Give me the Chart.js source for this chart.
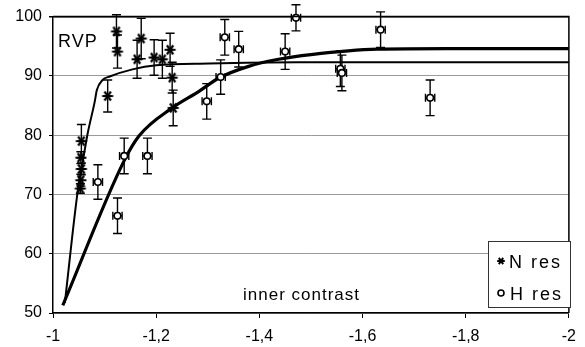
<!DOCTYPE html>
<html>
<head>
<meta charset="utf-8">
<title>RVP vs inner contrast</title>
<script src="https://cdn.jsdelivr.net/npm/chart.js@4"></script>
<style>
  body { margin: 0; background: #fff; }
  canvas { display: block; }
</style>
</head>
<body>
<canvas id="rvp" width="585" height="347"></canvas>
<script>
// axis ticks (x runs from -1 to -2, shown with a decimal comma)
const xTicks = [-1, -1.2, -1.4, -1.6, -1.8, -2];
const yTicks = [50, 60, 70, 80, 90, 100];

// N res measurements with their error (+/-)
const nX   = [-1.055, -1.054, -1.055, -1.054, -1.053, -1.106, -1.123, -1.125, -1.163, -1.171, -1.196, -1.212, -1.227, -1.231, -1.233];
const nY   = [79.0, 76.2, 74.3, 72.4, 71.0, 86.6, 97.5, 94.1, 92.8, 96.3, 93.1, 92.8, 94.4, 89.7, 84.6];
const nErr = [2.8, 1.0, 1.0, 1.0, 0.8, 2.7, 2.8, 2.8, 3.2, 3.4, 3.0, 3.2, 2.8, 2.6, 3.0];

// H res measurements with their error (+/-)
const hX   = [-1.087, -1.125, -1.138, -1.183, -1.298, -1.325, -1.333, -1.360, -1.450, -1.471, -1.557, -1.560, -1.635, -1.731];
const hY   = [72.1, 66.4, 76.5, 76.5, 85.7, 89.8, 96.5, 94.5, 94.1, 99.8, 91.2, 90.5, 97.8, 86.3];
const hErr = [2.9, 3.0, 3.0, 3.0, 3.0, 2.9, 3.0, 3.0, 3.0, 2.2, 3.0, 3.0, 3.0, 3.0];

// fitted curves
const nFitX = [-1.023, -1.048, -1.058, -1.067, -1.081, -1.085, -1.096, -1.110, -1.154, -1.200, -1.302, -1.475, -2];
const nFitY = [51.7, 70.6, 75.7, 80.2, 85.7, 87.6, 89.3, 89.9, 91.1, 91.8, 92.1, 92.3, 92.3];
const hFitX = [-1.019, -1.138, -1.167, -1.231, -1.283, -1.321, -1.379, -1.437, -1.500, -1.629, -1.763, -2];
const hFitY = [51.3, 75.7, 79.9, 84.6, 87.4, 89.6, 91.6, 92.8, 93.6, 94.5, 94.6, 94.6];

const FONT = '"Liberation Sans", Arial, sans-serif';

const pts = (xs, ys) => xs.map((x, i) => ({ x: x, y: ys[i] }));

// asterisk marker: an X crossed by a horizontal bar
function asterisk(r, lw) {
  const s = Math.ceil(2 * r + lw * 2);
  const c = document.createElement('canvas');
  c.width = c.height = s;
  const g = c.getContext('2d');
  const m = s / 2;
  g.strokeStyle = '#000';
  g.lineWidth = lw;
  g.beginPath();
  [0, 55, 125].forEach(a => {
    const dx = Math.cos(a * Math.PI / 180) * r, dy = Math.sin(a * Math.PI / 180) * r;
    g.moveTo(m - dx, m - dy);
    g.lineTo(m + dx, m + dy);
  });
  g.stroke();
  return c;
}
const star = asterisk(5.5, 2.2);
const smallStar = asterisk(3.8, 2);

// vertical (and optional horizontal) error bars with caps
const errorBars = {
  id: 'errorBars',
  beforeDatasetsDraw(chart) {
    const ctx = chart.ctx, sx = chart.scales.x, sy = chart.scales.y;
    chart.data.datasets.forEach(ds => {
      if (!ds.errors) return;
      ctx.save();
      ctx.strokeStyle = '#000';
      ctx.lineWidth = 1.4;
      ds.data.forEach((p, j) => {
        const px = sx.getPixelForValue(p.x), py = sy.getPixelForValue(p.y);
        const top = sy.getPixelForValue(p.y + ds.errors[j]);
        const bot = sy.getPixelForValue(p.y - ds.errors[j]);
        ctx.beginPath();
        ctx.moveTo(px, top); ctx.lineTo(px, bot);
        ctx.moveTo(px - 4.5, top); ctx.lineTo(px + 4.5, top);
        ctx.moveTo(px - 4.5, bot); ctx.lineTo(px + 4.5, bot);
        if (ds.xError) {
          const l = sx.getPixelForValue(p.x + ds.xError), r = sx.getPixelForValue(p.x - ds.xError);
          ctx.moveTo(l, py); ctx.lineTo(r, py);
          ctx.moveTo(l, py - 4); ctx.lineTo(l, py + 4);
          ctx.moveTo(r, py - 4); ctx.lineTo(r, py + 4);
        }
        ctx.stroke();
      });
      ctx.restore();
    });
  }
};

// frame, labels and the legend box inside the plot
const decorations = {
  id: 'decorations',
  afterDraw(chart) {
    const ctx = chart.ctx, a = chart.chartArea;
    ctx.save();
    ctx.strokeStyle = '#000';
    ctx.lineWidth = 1.5;
    ctx.beginPath();
    ctx.moveTo(a.left, a.top); ctx.lineTo(a.right, a.top); ctx.lineTo(a.right, a.bottom);
    ctx.stroke();

    ctx.fillStyle = '#000';
    ctx.textBaseline = 'alphabetic';
    ctx.textAlign = 'left';
    ctx.font = '18px ' + FONT;
    ctx.letterSpacing = '1px';
    ctx.fillText('RVP', 58, 47);
    ctx.font = '17px ' + FONT;
    ctx.fillText('inner contrast', 243, 300);

    // legend
    const bx = 488, by = 241, bw = 82, bh = 66;
    ctx.fillStyle = '#fff';
    ctx.fillRect(bx, by, bw, bh);
    ctx.strokeStyle = '#333';
    ctx.lineWidth = 1;
    ctx.strokeRect(bx + 0.5, by + 0.5, bw, bh);
    ctx.drawImage(smallStar, 501 - smallStar.width / 2, 261 - smallStar.height / 2);
    ctx.beginPath();
    ctx.arc(501, 293, 3, 0, Math.PI * 2);
    ctx.lineWidth = 1.6;
    ctx.strokeStyle = '#000';
    ctx.stroke();
    ctx.fillStyle = '#000';
    ctx.font = '18px ' + FONT;
    ctx.letterSpacing = '2px';
    ctx.fillText(chart.data.datasets[0].label, 509, 268);
    ctx.fillText(chart.data.datasets[1].label, 510, 300);
    ctx.restore();
  }
};

new Chart(document.getElementById('rvp'), {
  type: 'scatter',
  data: {
    datasets: [
      {
        label: 'N res',
        data: pts(nX, nY),
        errors: nErr,
        pointStyle: star,
        pointRadius: 5,
        clip: false,
        order: 0
      },
      {
        label: 'H res',
        data: pts(hX, hY),
        errors: hErr,
        xError: 0.009,
        pointStyle: 'circle',
        pointRadius: 3.3,
        borderColor: '#000',
        backgroundColor: '#fff',
        borderWidth: 1.6,
        clip: false,
        order: 0
      },
      {
        label: 'N fit',
        data: pts(nFitX, nFitY),
        showLine: true,
        pointRadius: 0,
        borderColor: '#000',
        borderWidth: 2,
        cubicInterpolationMode: 'monotone',
        order: 1
      },
      {
        label: 'H fit',
        data: pts(hFitX, hFitY),
        showLine: true,
        pointRadius: 0,
        borderColor: '#000',
        borderWidth: 3.2,
        cubicInterpolationMode: 'monotone',
        order: 1
      }
    ]
  },
  options: {
    responsive: false,
    animation: false,
    layout: { padding: { top: 15, right: 11, left: 0, bottom: 0 } },
    plugins: { legend: { display: false }, tooltip: { enabled: false } },
    scales: {
      x: {
        type: 'linear',
        min: -2,
        max: -1,
        reverse: true,
        afterBuildTicks: s => { s.ticks = xTicks.map(v => ({ value: v })); },
        afterFit: s => { s.height = 34; },
        ticks: {
          color: '#000',
          font: { family: FONT, size: 16 },
          padding: 9,
          maxRotation: 0,
          callback: v => String(v).replace('.', ',')
        },
        grid: { drawOnChartArea: false, drawTicks: true, tickLength: 5, tickColor: '#000' },
        border: { display: true, color: '#000', width: 1.5 }
      },
      y: {
        min: 50,
        max: 100,
        afterBuildTicks: s => { s.ticks = yTicks.map(v => ({ value: v })); },
        afterFit: s => { s.width = 53; },
        ticks: {
          color: '#000',
          font: { family: FONT, size: 16 },
          padding: 7
        },
        grid: {
          color: c => (c.tick && c.tick.value === 100 ? '#000' : '#9a9a9a'),
          lineWidth: c => (c.tick && c.tick.value === 100 ? 1.5 : 1),
          tickLength: 4,
          tickColor: '#000'
        },
        border: { display: true, color: '#000', width: 1.5 }
      }
    }
  },
  plugins: [errorBars, decorations]
});
</script>
</body>
</html>
